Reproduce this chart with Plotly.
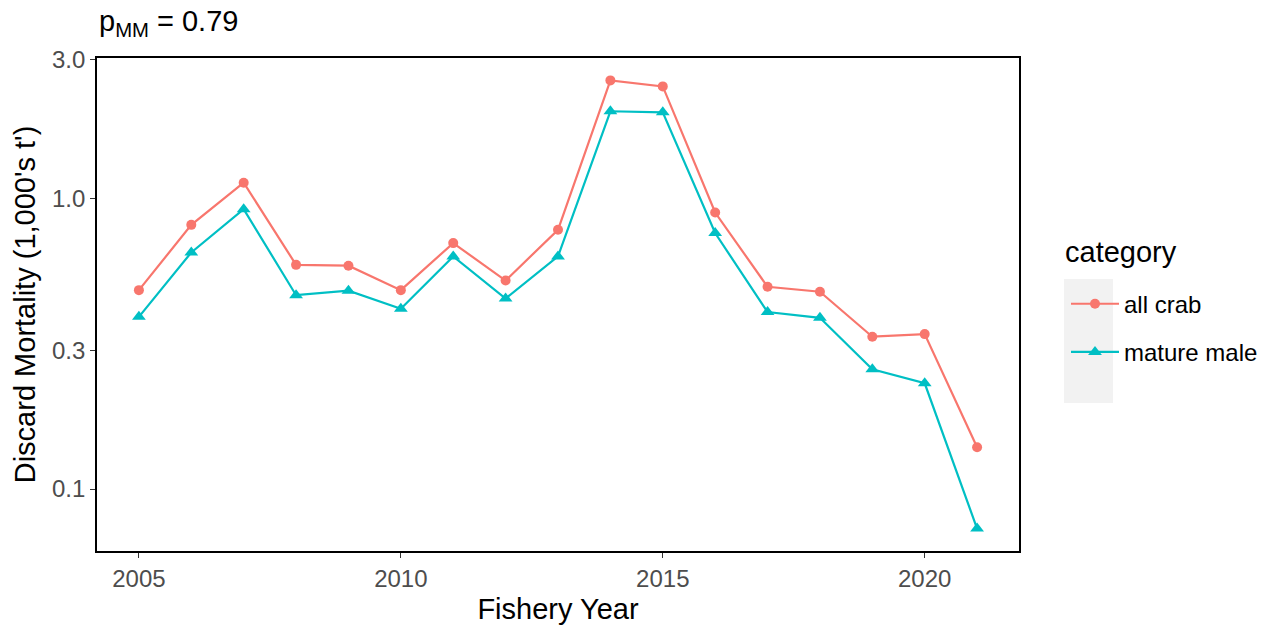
import numpy as np
import plotly.graph_objects as go

# Fishery years and discard mortality (1,000's t) by category
years = list(range(2005, 2022))
all_crab = [0.483, 0.810, 1.131, 0.590, 0.586, 0.483, 0.701, 0.521, 0.779,
            2.542, 2.424, 0.893, 0.496, 0.477, 0.334, 0.341, 0.1392]
mature_male = [0.391, 0.651, 0.917, 0.464, 0.481, 0.417, 0.631, 0.452, 0.631,
               1.991, 1.975, 0.759, 0.406, 0.388, 0.258, 0.231, 0.0731]

y_tick_vals = [0.1, 0.3, 1.0, 3.0]
y_tick_text = ["0.1", "0.3", "1.0", "3.0"]
x_tick_vals = [2005, 2010, 2015, 2020]
p_mm = "0.79"

FONT = "Liberation Sans, Arial, sans-serif"
RED = "#F8766D"
TEAL = "#00BFC4"

fig = go.Figure()
fig.add_trace(go.Scatter(
    x=years, y=all_crab, mode="lines+markers", name="all crab",
    legendgroup="a",
    line=dict(color=RED, width=2.2),
    marker=dict(symbol="circle", size=10, color=RED),
))
fig.add_trace(go.Scatter(
    x=years, y=mature_male, mode="lines+markers", name="mature male",
    legendgroup="b",
    line=dict(color=TEAL, width=2.2),
    marker=dict(symbol="triangle-up", size=12, color=TEAL),
))

# ggplot-style 5% expansion on the log scale
all_vals = np.log10(np.array(all_crab + mature_male))
lo, hi = all_vals.min(), all_vals.max()
pad = 0.05 * (hi - lo)
xpad = 0.05 * (max(years) - min(years))

axis_common = dict(
    showline=True, linecolor="black", linewidth=1.6, mirror=True,
    ticks="outside", ticklen=5, tickwidth=1.1, tickcolor="#333333",
    showgrid=False, zeroline=False,
    tickfont=dict(family=FONT, size=24, color="#4D4D4D"),
)

fig.update_layout(
    width=1285, height=634,
    margin=dict(l=97, r=266, t=58, b=83),
    paper_bgcolor="white", plot_bgcolor="white",
    font=dict(family=FONT, color="black"),
    xaxis=dict(
        range=[min(years) - xpad, max(years) + xpad],
        tickvals=x_tick_vals,
        title=dict(text="Fishery Year", font=dict(family=FONT, size=29, color="black"), standoff=8),
        **axis_common,
    ),
    yaxis=dict(
        type="log",
        range=[lo - pad, hi + pad],
        tickvals=y_tick_vals, ticktext=y_tick_text,
        title=dict(text="Discard Mortality (1,000's t')", font=dict(family=FONT, size=29, color="black"), standoff=8),
        **axis_common,
    ),
    legend=dict(
        font=dict(family=FONT, size=24, color="black"),
        x=(1066 - 97) / 922, xanchor="left", y=0.452, yanchor="middle",
        bgcolor="rgba(0,0,0,0)",
        tracegroupgap=14,
        traceorder="grouped",
        itemwidth=48,
    ),
    annotations=[
        dict(
            text=f"p<sub>MM</sub> = {p_mm}",
            xref="paper", yref="paper", x=0, y=1, xanchor="left", yanchor="bottom",
            yshift=15, showarrow=False,
            font=dict(family=FONT, size=29, color="black"),
        ),
        dict(
            text="category",
            xref="paper", yref="paper", x=(1063 - 97) / 922, y=(551 - 252) / 493,
            xanchor="left", yanchor="middle", showarrow=False,
            font=dict(family=FONT, size=29, color="black"),
        ),
    ],
    shapes=[dict(
        type="rect", xref="paper", yref="paper",
        x0=(1064 - 97) / 922, x1=(1113 - 97) / 922,
        y0=(551 - 403) / 493, y1=(551 - 279) / 493,
        fillcolor="#F2F2F2", line=dict(width=0), layer="below",
    )],
)

fig.write_html("out.html")
